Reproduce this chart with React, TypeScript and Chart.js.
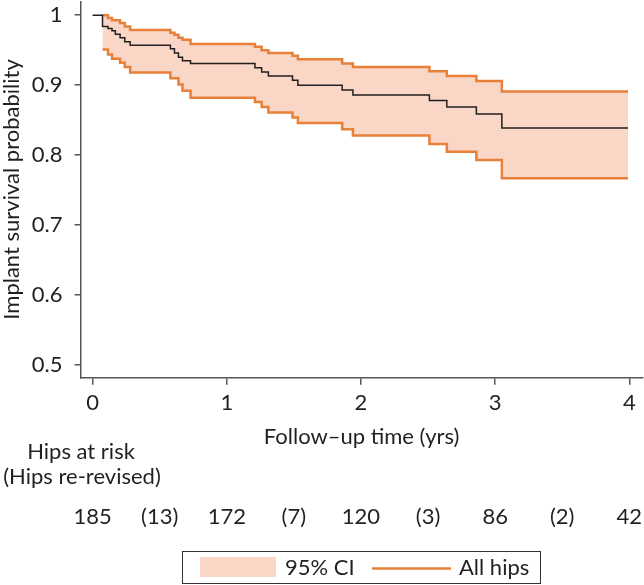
import React, { useEffect, useRef } from "react";
import { Chart, registerables } from "chart.js";

Chart.register(...registerables);

// Kaplan–Meier step times (years) and estimates
const times = [0, 0.074, 0.115, 0.145, 0.17, 0.205, 0.24, 0.28, 0.58, 0.61, 0.64, 0.67, 0.73, 1.21, 1.26, 1.31, 1.49, 1.53, 1.86, 1.94, 2.51, 2.64, 2.86, 3.05, 3.99];
const survival = [1, 0.984, 0.981, 0.978, 0.973, 0.968, 0.962, 0.957, 0.952, 0.946, 0.94, 0.935, 0.931, 0.925, 0.919, 0.913, 0.907, 0.9, 0.893, 0.886, 0.878, 0.869, 0.859, 0.839, 0.839];
const upper = [null, 1, 0.996, 0.993, 0.993, 0.989, 0.984, 0.979, 0.975, 0.972, 0.968, 0.965, 0.959, 0.955, 0.95, 0.946, 0.942, 0.937, 0.931, 0.926, 0.92, 0.913, 0.906, 0.891, 0.891];
const lower = [null, 0.951, 0.944, 0.938, 0.938, 0.932, 0.926, 0.918, 0.91, 0.91, 0.901, 0.892, 0.882, 0.876, 0.869, 0.861, 0.854, 0.846, 0.837, 0.828, 0.816, 0.805, 0.793, 0.767, 0.767];

const xTicks = [0, 1, 2, 3, 4];
const yTicks = [0.5, 0.6, 0.7, 0.8, 0.9, 1];

const riskTimes = [0, 1, 2, 3, 4];
const atRisk = [185, 172, 120, 86, 42];
const revisedTimes = [0.5, 1.5, 2.5, 3.5];
const reRevised = [13, 7, 3, 2];

const ORANGE = "#E8803A";
const FILL = "#F9D6C6";
const TEXT = "#231F20";
const AXIS = "#555555";
const FONT = "Lato";

const toXY = (ys: (number | null)[]) => times.map((t, i) => ({ x: t, y: ys[i] }));

const overlay = {
  id: "overlay",
  afterDraw(chart: any) {
    const ctx = chart.ctx;
    const xs = chart.scales.x;
    ctx.save();
    ctx.fillStyle = TEXT;
    ctx.font = `22px ${FONT}`;
    ctx.textAlign = "center";
    ctx.textBaseline = "middle";
    ctx.fillText("Hips at risk", 81, 452);
    ctx.fillText("(Hips re-revised)", 82, 477);
    riskTimes.forEach((t, i) => ctx.fillText(String(atRisk[i]), xs.getPixelForValue(t), 517));
    revisedTimes.forEach((t, i) => ctx.fillText(`(${reRevised[i]})`, xs.getPixelForValue(t), 517));
    // legend
    ctx.strokeStyle = "#333";
    ctx.lineWidth = 1;
    ctx.strokeRect(182.5, 551.5, 358, 32);
    ctx.fillStyle = FILL;
    ctx.fillRect(200, 557, 76, 20);
    ctx.fillStyle = TEXT;
    ctx.textAlign = "left";
    ctx.fillText("95% CI", 285, 568);
    ctx.strokeStyle = ORANGE;
    ctx.lineWidth = 2.5;
    ctx.beginPath();
    ctx.moveTo(372, 568.5);
    ctx.lineTo(451, 568.5);
    ctx.stroke();
    ctx.fillText("All hips", 459, 568);
    ctx.restore();
  },
};

const noPad = (s: any) => {
  s.paddingTop = 0;
  s.paddingBottom = 0;
  s.paddingLeft = 0;
  s.paddingRight = 0;
};

export default function App() {
  const ref = useRef<HTMLCanvasElement | null>(null);
  useEffect(() => {
    if (!ref.current) return;
    const chart = new Chart(ref.current, {
      type: "line",
      data: {
        datasets: [
          {
            label: "All hips",
            data: toXY(survival),
            stepped: true,
            borderColor: TEXT,
            borderWidth: 1.5,
            pointRadius: 0,
            fill: false,
          },
          {
            label: "upper",
            data: toXY(upper),
            stepped: true,
            borderColor: ORANGE,
            borderWidth: 2.5,
            pointRadius: 0,
            backgroundColor: FILL,
            fill: "+1",
          },
          {
            label: "lower",
            data: toXY(lower),
            stepped: true,
            borderColor: ORANGE,
            borderWidth: 2.5,
            pointRadius: 0,
            fill: false,
          },
        ],
      },
      options: {
        animation: false,
        responsive: false,
        events: [],
        layout: { padding: { left: 0, right: 0, top: 0, bottom: 134.8 } },
        plugins: {
          legend: { display: false },
          tooltip: { enabled: false },
          filler: { drawTime: "beforeDatasetsDraw" },
        },
        scales: {
          x: {
            type: "linear",
            min: -0.09,
            max: 4.1,
            afterBuildTicks: (s: any) => {
              s.ticks = xTicks.map((v) => ({ value: v }));
            },
            afterFit: (s: any) => {
              s.height = 72.5;
              noPad(s);
            },
            border: { display: true, color: AXIS, width: 1.5 },
            grid: { drawOnChartArea: false, drawTicks: true, tickLength: 7, color: AXIS, lineWidth: 1.5 },
            ticks: {
              autoSkip: false,
              maxRotation: 0,
              padding: 5,
              color: TEXT,
              font: { family: FONT, size: 22, lineHeight: 1.2 },
              callback: (v: any) => String(v),
            },
            title: {
              display: true,
              text: "Follow\u2013up time (yrs)",
              color: TEXT,
              padding: { top: 0, bottom: 0 },
              font: { family: FONT, size: 22, lineHeight: 1.2 },
            },
          },
          y: {
            type: "linear",
            min: 0.482,
            max: 1.02,
            afterBuildTicks: (s: any) => {
              s.ticks = yTicks.map((v) => ({ value: v }));
            },
            afterFit: (s: any) => {
              s.width = 80.5;
              noPad(s);
            },
            border: { display: true, color: AXIS, width: 1.5 },
            grid: { drawOnChartArea: false, drawTicks: true, tickLength: 6, color: AXIS, lineWidth: 1.5 },
            ticks: {
              autoSkip: false,
              padding: 12,
              color: TEXT,
              font: { family: FONT, size: 22, lineHeight: 1.2 },
              callback: (v: any) => (v === 1 ? "1" : Number(v).toFixed(1)),
            },
            title: {
              display: true,
              text: "Implant survival probability",
              color: TEXT,
              padding: { top: 0, bottom: 0 },
              font: { family: FONT, size: 22, lineHeight: 1.1 },
            },
          },
        },
      },
      plugins: [overlay],
    });
    let alive = true;
    if ((document as any).fonts && (document as any).fonts.load) {
      (document as any).fonts.load(`22px ${FONT}`).then(() => {
        if (alive) chart.update();
      });
    }
    return () => {
      alive = false;
      chart.destroy();
    };
  }, []);
  return (
    <div style={{ position: "absolute", left: 0, top: 0, width: 644, height: 585, background: "#fff" }}>
      <canvas ref={ref} width={644} height={585} />
    </div>
  );
}
